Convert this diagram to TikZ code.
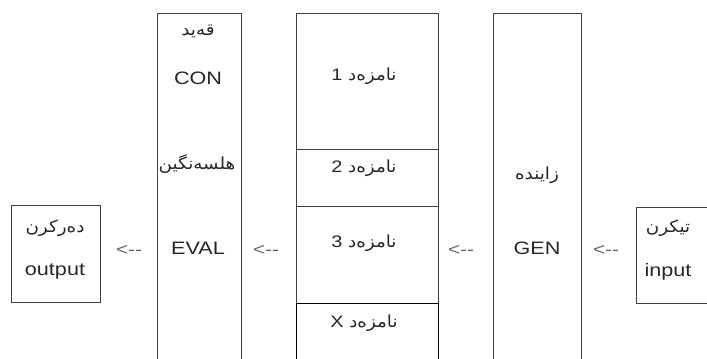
\documentclass[tikz,border=0pt]{standalone}
\usepackage{fontspec}
\setmainfont{Liberation Sans}[FakeStretch=1.2]
\newfontfamily\arabicfont[Script=Arabic,FakeStretch=1.1]{DejaVu Sans}
\TeXXeTstate=1
\newcommand{\ar}[1]{{\arabicfont\beginR #1\endR}}
\begin{document}
\begin{tikzpicture}[x=0.75pt,y=-0.75pt,
  frame/.style={draw=black!75,line width=0.6pt,inner sep=0pt,anchor=north west},
  lbl/.style={font=\fontsize{13.5}{16}\selectfont,text=black!85,inner sep=0pt},
  arlbl/.style={font=\fontsize{12.5}{15}\selectfont,text=black!85,inner sep=0pt},
  flow/.style={font=\fontsize{13}{15}\selectfont,text=black!60,inner sep=0pt}]
\useasboundingbox (0,0) rectangle (707,358);
\clip (0,0) rectangle (707,358);

% output box
\node[frame,minimum width=89*0.75pt,minimum height=97*0.75pt] (outbox) at (11,205) {};
\node[arlbl] (outar) at (55,228) {\ar{دەرکرن}};
\node[lbl] (outen) at (55,272) {output};

% constraints / evaluation column
\node[frame,minimum width=84*0.75pt,minimum height=360*0.75pt] (evalbox) at (157,13) {};
\node[arlbl] (conar) at (198,31) {\ar{قەید}};
\node[lbl] (conen) at (198,78) {CON};
\node[arlbl] (evalar) at (197,164) {\ar{هلسەنگین}};
\node[lbl] (evalen) at (198,248) {EVAL};

% candidate column
\node[frame,minimum width=142*0.75pt,minimum height=136*0.75pt] (cand1) at (296,13) {};
\node[frame,minimum width=142*0.75pt,minimum height=57*0.75pt] (cand2) at (296,149) {};
\node[frame,minimum width=142*0.75pt,minimum height=97*0.75pt] (cand3) at (296,206) {};
\node[frame,draw=black,minimum width=142*0.75pt,minimum height=70*0.75pt] (candx) at (296,303) {};
\node[arlbl] (c1) at (364,76) {1~\ar{نامزەد}};
\node[arlbl] (c2) at (364,168) {2~\ar{نامزەد}};
\node[arlbl] (c3) at (364,243) {3~\ar{نامزەد}};
\node[arlbl] (cx) at (364,323) {X~\ar{نامزەد}};

% generator column
\node[frame,minimum width=88*0.75pt,minimum height=360*0.75pt] (genbox) at (493,13) {};
\node[arlbl] (genar) at (537,175) {\ar{زایندە}};
\node[lbl] (genen) at (537,248) {GEN};

% input box
\node[frame,minimum width=80*0.75pt,minimum height=96*0.75pt] (inbox) at (636,207) {};
\node[arlbl] (inar) at (668,228) {\ar{تیکرن}};
\node[lbl] (inen) at (668,272) {input};

% flow marks between the stages
\node[flow] (f1) at (129,250) {<-{}-};
\node[flow] (f2) at (266,250) {<-{}-};
\node[flow] (f3) at (461,250) {<-{}-};
\node[flow] (f4) at (606,250) {<-{}-};
\end{tikzpicture}
\end{document}
